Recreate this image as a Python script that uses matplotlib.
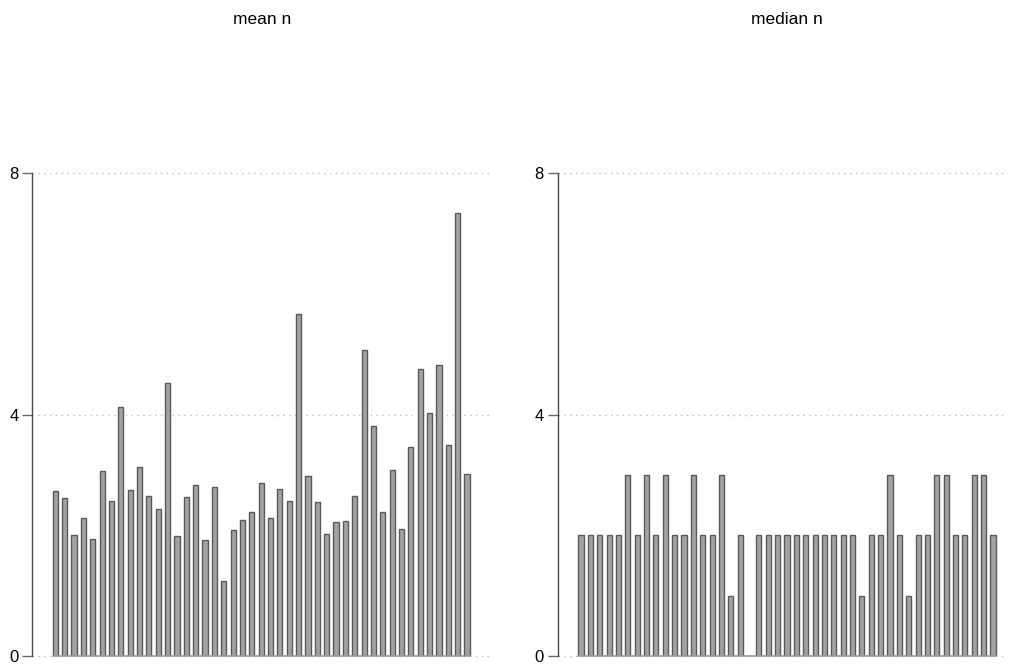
import numpy as np
import matplotlib
matplotlib.use("Agg")
import matplotlib.pyplot as plt

plt.rcParams["font.family"] = ["Liberation Sans", "DejaVu Sans"]

# mean n per group (45 groups)
mean_n = [2.73, 2.62, 2.01, 2.29, 1.94, 3.06, 2.57, 4.12, 2.75, 3.14,
          2.65, 2.43, 4.52, 1.99, 2.63, 2.83, 1.93, 2.80, 1.24, 2.09,
          2.25, 2.38, 2.87, 2.28, 2.76, 2.57, 5.67, 2.99, 2.55, 2.03,
          2.22, 2.23, 2.65, 5.07, 3.82, 2.38, 3.09, 2.11, 3.46, 4.75,
          4.03, 4.83, 3.49, 7.34, 3.01]

# median n per group
median_n = [2, 2, 2, 2, 2, 3, 2, 3, 2, 3,
            2, 2, 3, 2, 2, 3, 1, 2, 0, 2,
            2, 2, 2, 2, 2, 2, 2, 2, 2, 2,
            1, 2, 2, 3, 2, 1, 2, 2, 3, 3,
            2, 2, 3, 3, 2]

titles = ["mean n", "median n"]
yticks = [0, 4, 8]

W, H = 1009, 668
fig = plt.figure(figsize=(W / 100, H / 100), dpi=100)

# axes boxes in pixels: left, right, and x-limits so bars land where they do
panels = [
    (32.3, 492.0, (-2.46, 46.67), mean_n, 262),
    (557.7, 1005.0, (-2.49, 45.28), median_n, 787),
]
y0_px, y8_px = 656.0, 173.3

bar_w = 0.55
for (left, right, xl, vals, title_x), title in zip(panels, titles):
    ax = fig.add_axes([left / W, (H - y0_px) / H, (right - left) / W, (y0_px - y8_px) / H])
    x = np.arange(len(vals))
    ax.bar(x, vals, width=bar_w, color="#a3a3a3", edgecolor="#5a5a5a",
           linewidth=1.0, zorder=3)
    ax.set_xlim(*xl)
    ax.set_ylim(0, 8)
    for yv in yticks:
        ax.axhline(yv, color="#bdbdbd", linestyle=(0, (1, 3.2)), linewidth=1.0,
                   zorder=1, clip_on=False)
    # baseline under the bars only
    ax.plot([x[0] - bar_w / 2, x[-1] + bar_w / 2], [0, 0], color="#9a9a9a",
            linewidth=1.2, zorder=4, clip_on=False)
    ax.set_yticks(yticks)
    ax.set_yticklabels([str(v) for v in yticks], fontsize=12)
    ax.set_xticks([])
    for s in ["top", "right", "bottom"]:
        ax.spines[s].set_visible(False)
    ax.spines["left"].set_color("#4a4a4a")
    ax.spines["left"].set_linewidth(1.0)
    ax.tick_params(axis="y", length=7, width=1.0, color="#6a6a6a", pad=3)
    fig.text(title_x / W, 1 - 19 / H, title, ha="center", va="center", fontsize=12.5)

fig.savefig("out.png", dpi=100, facecolor="white")
